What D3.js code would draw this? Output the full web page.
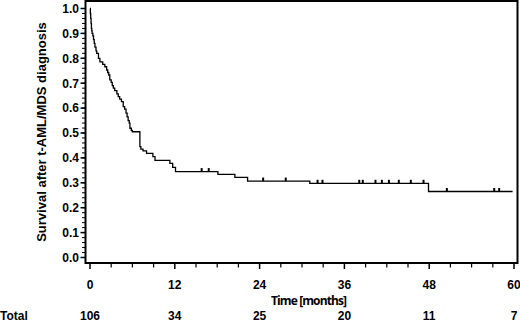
<!DOCTYPE html>
<html><head><meta charset="utf-8">
<script src="https://cdn.jsdelivr.net/npm/d3@7"></script>
<style>
html,body{margin:0;padding:0;background:#fff;}
svg{display:block;}
text{font-family:"Liberation Sans",Arial,sans-serif;font-weight:bold;fill:#000;}
</style></head>
<body>
<svg id="c" width="520" height="321"></svg>
<script>
// KM step data: time (months) and survival after each step
const stepTimes = [0,0.05,0.1,0.15,0.2,0.25,0.3,0.4,0.5,0.6,0.7,0.85,0.95,1.2,1.4,1.8,2.1,2.35,2.5,2.65,2.8,3.0,3.15,3.3,3.5,3.8,4.0,4.2,4.45,4.7,4.9,5.1,5.25,5.4,5.55,5.65,5.85,6.0,7.06,7.2,7.5,8.0,8.9,9.2,11.3,11.7,12.1,18.1,20.5,22.3,31.1,47.9,59.8];
const stepSurv  = [1.0,0.98,0.96,0.94,0.92,0.91,0.90,0.89,0.875,0.86,0.845,0.83,0.82,0.80,0.786,0.776,0.766,0.753,0.743,0.733,0.713,0.703,0.69,0.68,0.67,0.657,0.646,0.636,0.626,0.606,0.596,0.58,0.565,0.55,0.54,0.519,0.51,0.505,0.445,0.435,0.428,0.418,0.405,0.39,0.378,0.362,0.345,0.334,0.322,0.307,0.298,0.265,0.265];
const censorTimes = [15.8,16.8,24.5,27.7,32.2,32.9,38.1,38.6,40.4,41.3,42.3,43.7,45.4,47.2,50.5,57.2,57.9];
const xTicks = [0,12,24,36,48,60];
const xMinor = [3,6,9,15,18,21,27,30,33,39,42,45,51,54,57];
const yTicks = [0,0.1,0.2,0.3,0.4,0.5,0.6,0.7,0.8,0.9,1.0];
const atRisk = [106,34,25,20,11,7];

const svg = d3.select("#c");
const x = d3.scaleLinear().domain([0,60]).range([90,514]);
const y = d3.scaleLinear().domain([0,1]).range([257.5,8.5]);

// frame
svg.append("rect").attr("x",85.5).attr("y",1).attr("width",432).attr("height",262)
  .attr("fill","none").attr("stroke","#000").attr("stroke-width",2);

// y axis
const yMinor = d3.range(0,1.001,0.02).map(v=>+v.toFixed(2));
svg.selectAll(".ymin").data(yMinor).enter().append("line")
  .attr("x1",82).attr("x2",85).attr("y1",d=>y(d)).attr("y2",d=>y(d))
  .attr("stroke","#000").attr("stroke-width",1);
svg.selectAll(".ymaj").data(yTicks).enter().append("line")
  .attr("x1",80.5).attr("x2",85).attr("y1",d=>y(d)).attr("y2",d=>y(d))
  .attr("stroke","#000").attr("stroke-width",1.5);
svg.selectAll(".ylab").data(yTicks).enter().append("text")
  .attr("x",79).attr("y",d=>y(d)+4.3).attr("text-anchor","end")
  .attr("font-size",12).text(d=>d.toFixed(1));

// x axis ticks
svg.selectAll(".xmin").data(xMinor).enter().append("line")
  .attr("x1",d=>x(d)).attr("x2",d=>x(d)).attr("y1",263).attr("y2",267.5)
  .attr("stroke","#000").attr("stroke-width",1.2);
svg.selectAll(".xmaj").data(xTicks).enter().append("line")
  .attr("x1",d=>x(d)).attr("x2",d=>x(d)).attr("y1",263).attr("y2",269)
  .attr("stroke","#000").attr("stroke-width",1.5);
svg.selectAll(".xlab").data(xTicks).enter().append("text")
  .attr("x",d=>x(d)).attr("y",288.5).attr("text-anchor","middle")
  .attr("font-size",12).text(d=>d);

svg.append("text").attr("x",309).attr("y",305).attr("text-anchor","middle")
  .attr("font-size",12).style("font-family","'Open Sans',sans-serif")
  .attr("textLength",76).text("Time [months]");

// y title
svg.append("text").attr("transform","translate(46,132) rotate(-90)")
  .attr("text-anchor","middle").attr("font-size",13)
  .text("Survival after t-AML/MDS diagnosis");

// at risk row
svg.append("text").attr("x",0).attr("y",319.5).attr("font-size",12).text("Total");
svg.selectAll(".risk").data(atRisk).enter().append("text")
  .attr("x",(d,i)=>x(xTicks[i])).attr("y",319.5).attr("text-anchor","middle")
  .attr("font-size",12).text(d=>d);

// KM curve
const pts = stepTimes.map((t,i)=>[t,stepSurv[i]]);
const line = d3.line().x(d=>x(d[0])).y(d=>y(d[1])).curve(d3.curveStepAfter);
svg.append("path").attr("d",line(pts)).attr("fill","none")
  .attr("stroke","#000").attr("stroke-width",1.3);

// censor marks
function survAt(t){let s=1;for(let i=0;i<stepTimes.length;i++){if(stepTimes[i]<=t)s=stepSurv[i];}return s;}
svg.selectAll(".cens").data(censorTimes).enter().append("line")
  .attr("x1",d=>x(d)).attr("x2",d=>x(d))
  .attr("y1",d=>y(survAt(d))-3.5).attr("y2",d=>y(survAt(d)))
  .attr("stroke","#000").attr("stroke-width",2);
</script>
</body></html>
